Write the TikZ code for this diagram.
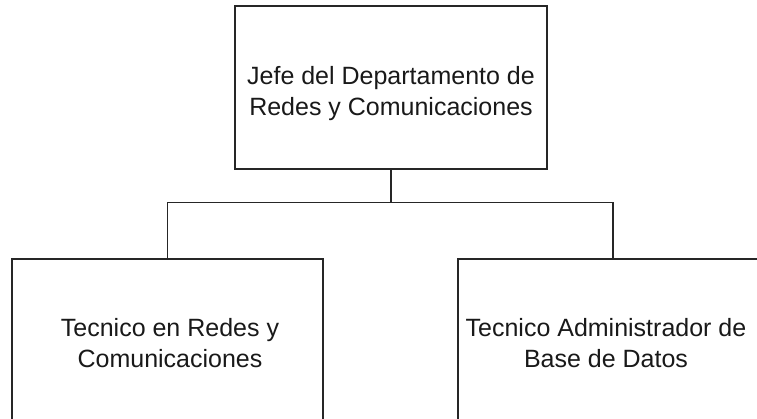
\documentclass[tikz,border=0pt]{standalone}
\usepackage{fontspec}
\setmainfont{Liberation Sans}
\begin{document}
\begin{tikzpicture}[x=1pt,y=-1pt,
  box/.style={draw=black!85,line width=1.4pt,minimum width=#1,inner sep=0pt,outer sep=0pt},
  box/.default=311pt,
  txt/.style={align=center,font=\fontsize{25}{31}\selectfont,text=black!90,inner sep=0pt},
  conn/.style={draw=black!85,line width=1.4pt}]
\useasboundingbox (0,0) rectangle (757,418);
\clip (0,0) rectangle (757,418);
\node[box=312pt,minimum height=163pt] (top) at (391,87.5) {};
\node[txt] (toptxt) at (391,94) {Jefe del Departamento de\\Redes y Comunicaciones};
\node[box=311pt,minimum height=166pt] (left) at (167.5,342) {};
\node[txt] (lefttxt) at (170,343) {Tecnico en Redes y\\Comunicaciones};
\node[box=310pt,minimum height=166pt] (right) at (613,342) {};
\node[txt] (righttxt) at (606,343) {Tecnico Administrador de\\Base de Datos};
\coordinate (j) at (391,202.5);
\draw[conn] (top.south) -- (j);
\draw[conn] (left.north) |- (j) -| (right.north);
\end{tikzpicture}
\end{document}
